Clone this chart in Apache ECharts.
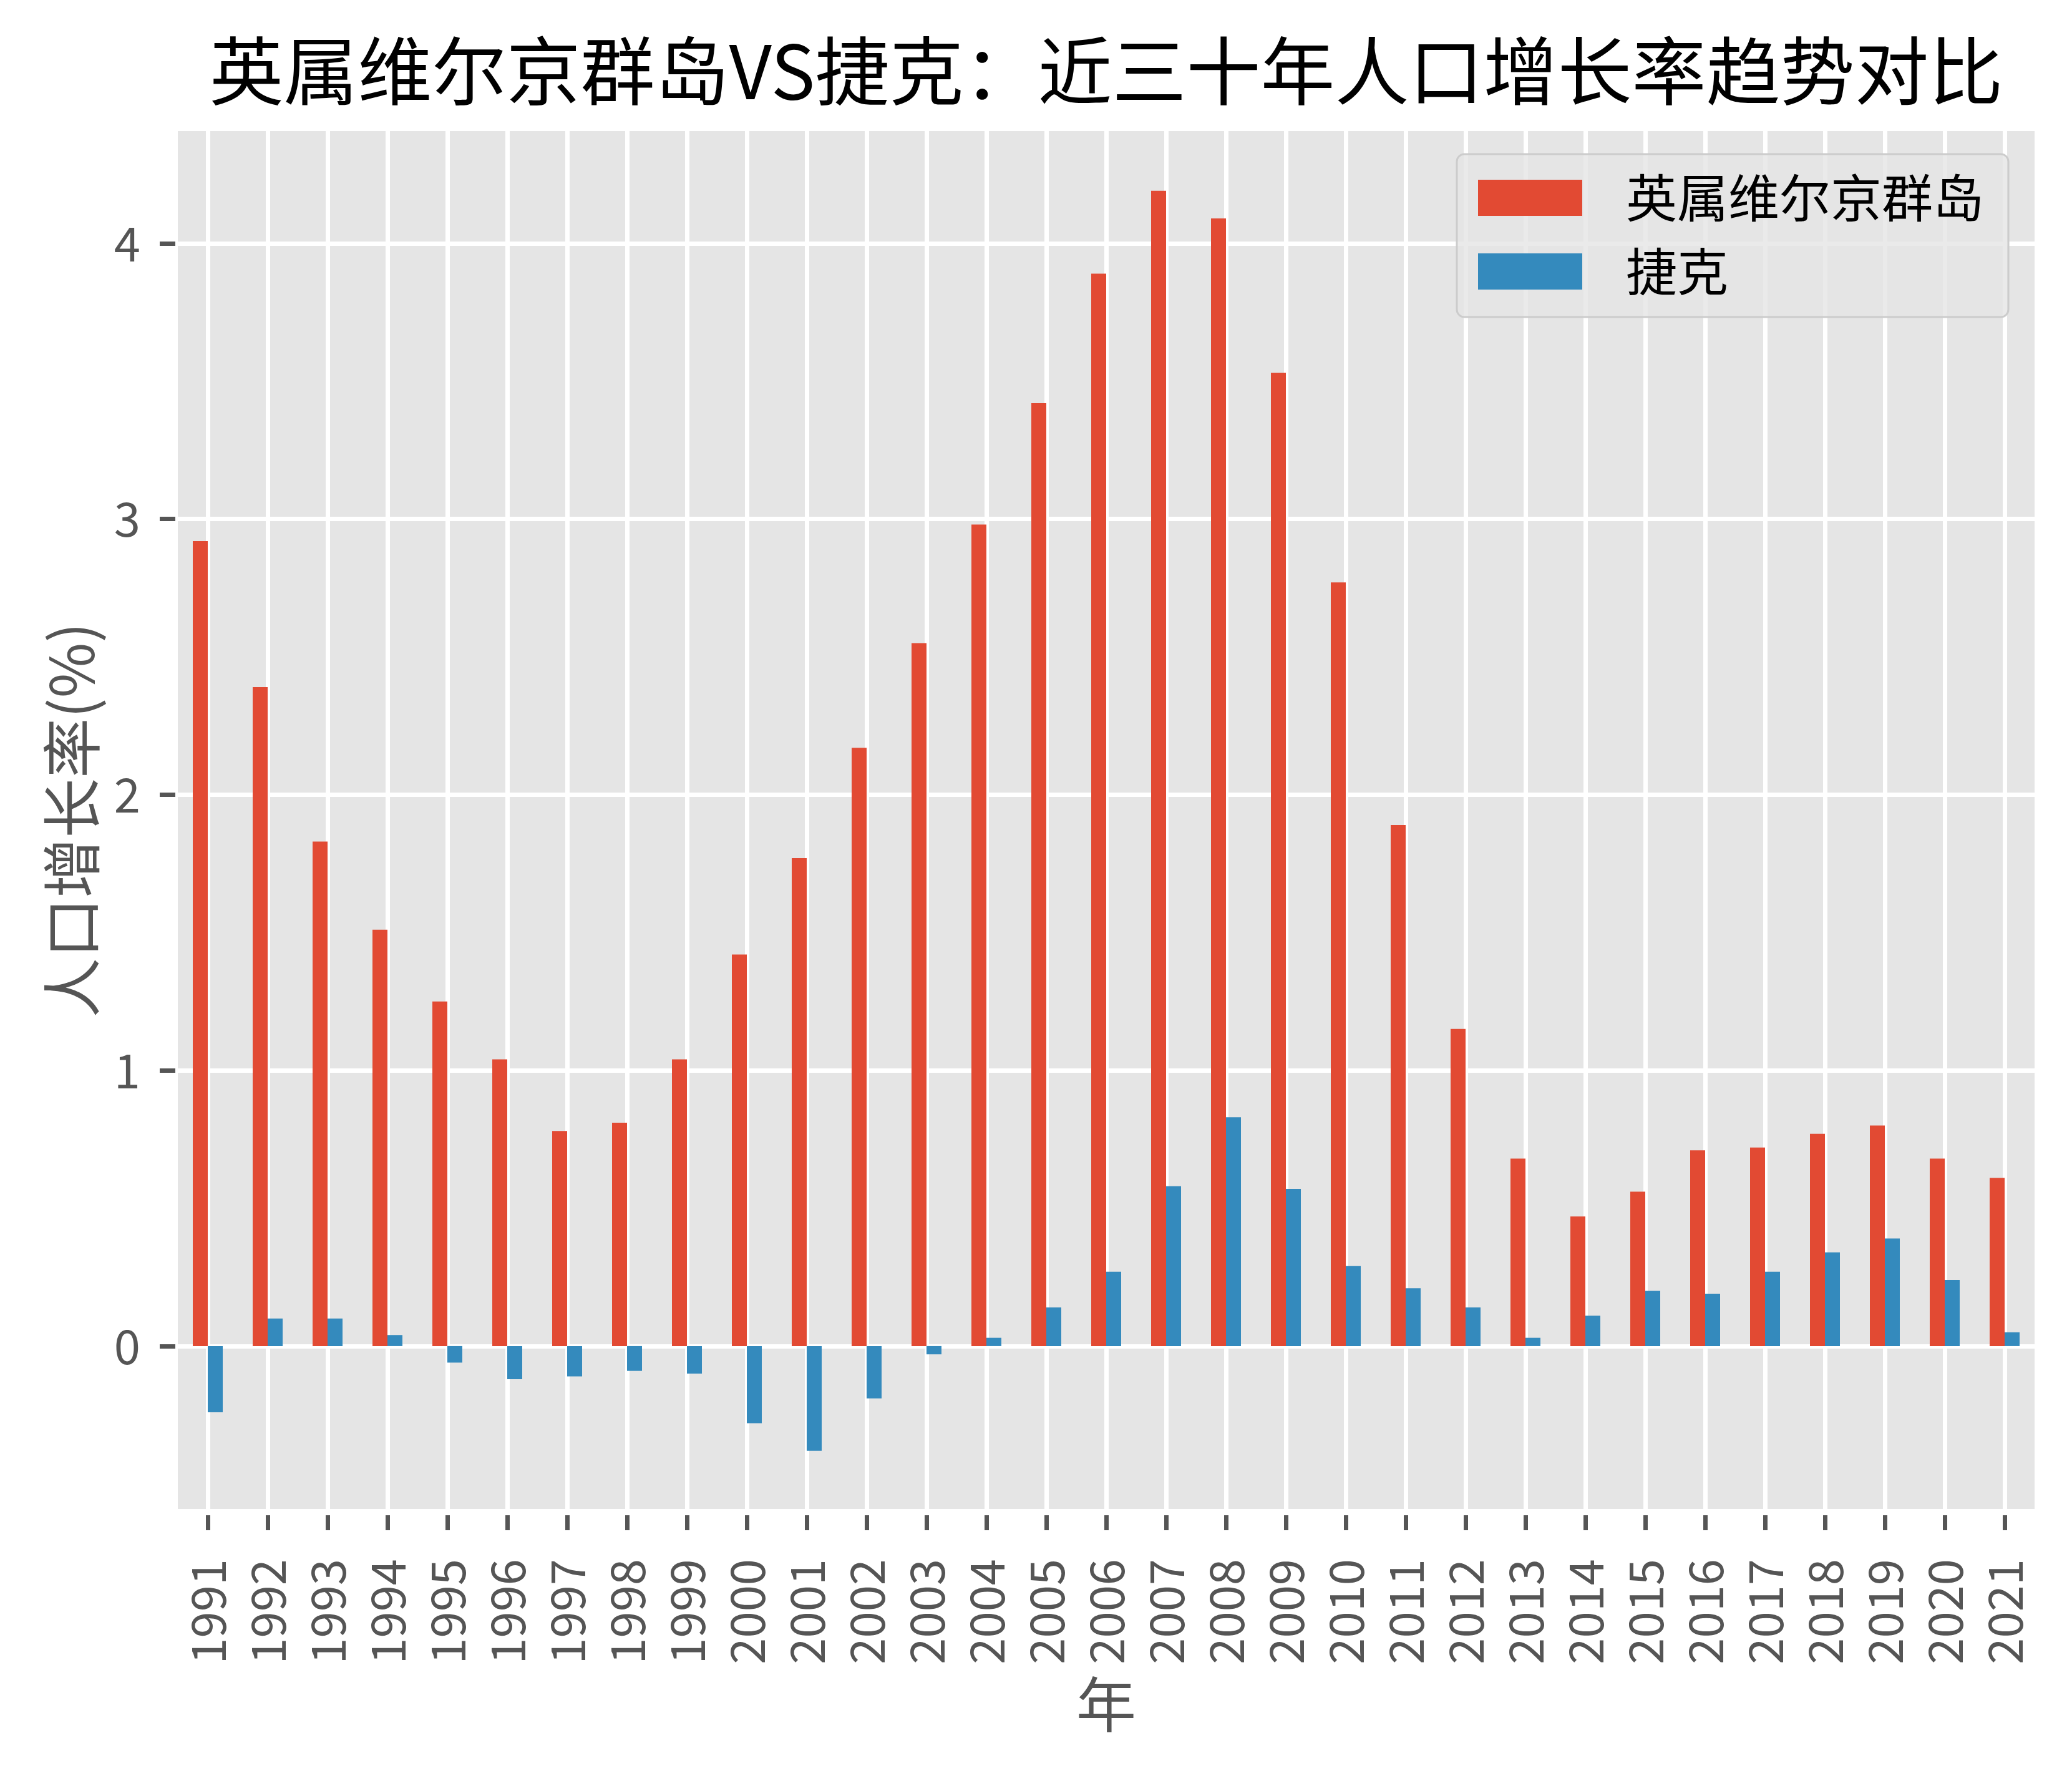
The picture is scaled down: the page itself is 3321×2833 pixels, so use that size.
<!DOCTYPE html>
<html>
<head>
<meta charset="utf-8">
<script src="https://cdn.jsdelivr.net/npm/echarts@6/dist/echarts.min.js"></script>
<style>
html,body{margin:0;padding:0;background:#fff;}
#chart{width:3321px;height:2833px;}
</style>
</head>
<body>
<div id="chart"></div>
<script>
const years = ['1991','1992','1993','1994','1995','1996','1997','1998','1999','2000','2001','2002','2003','2004','2005','2006','2007','2008','2009','2010','2011','2012','2013','2014','2015','2016','2017','2018','2019','2020','2021'];
const bviGrowth = [2.92,2.39,1.83,1.51,1.25,1.04,0.78,0.81,1.04,1.42,1.77,2.17,2.55,2.98,3.42,3.89,4.19,4.09,3.53,2.77,1.89,1.15,0.68,0.47,0.56,0.71,0.72,0.77,0.80,0.68,0.61];
const czechGrowth = [-0.24,0.10,0.10,0.04,-0.06,-0.12,-0.11,-0.09,-0.10,-0.28,-0.38,-0.19,-0.03,0.03,0.14,0.27,0.58,0.83,0.57,0.29,0.21,0.14,0.03,0.11,0.20,0.19,0.27,0.34,0.39,0.24,0.05];
const yTicks = [0,1,2,3,4];
const seriesNames = ['英属维尔京群岛','捷克'];

const cjk = "'Noto Sans CJK SC', sans-serif";
const num = "'Liberation Sans Narrow', 'Noto Sans CJK SC', sans-serif";

const chart = echarts.init(document.getElementById('chart'), null, {renderer:'canvas'});
chart.setOption({
  animation: false,
  backgroundColor: '#ffffff',
  title: {
    text: '英属维尔京群岛VS捷克：近三十年人口增长率趋势对比',
    left: 1773, top: 54, textAlign: 'center', padding: 0,
    textStyle: {fontFamily: cjk, fontSize: 119, fontWeight: 'normal', color: '#000000'}
  },
  legend: {
    orient: 'vertical',
    left: 2335, top: 247,
    padding: [29, 39, 32, 34],
    itemWidth: 167, itemHeight: 58, itemGap: 36,
    icon: 'rect',
    backgroundColor: 'rgba(229,229,229,0.8)',
    borderColor: '#cccccc', borderWidth: 3, borderRadius: 12,
    textStyle: {fontFamily: cjk, fontSize: 82, lineHeight: 82, color: '#000000', padding: [0,0,0,65]},
    data: seriesNames
  },
  grid: {
    left: 285, right: 60, top: 210, bottom: 415,
    show: true, backgroundColor: '#E5E5E5', borderWidth: 0, containLabel: false
  },
  xAxis: {
    type: 'category',
    data: years,
    offset: 10,
    name: '年', nameLocation: 'middle', nameGap: 255,
    nameTextStyle: {fontFamily: cjk, fontSize: 96, color: '#555555'},
    axisLine: {show: false, onZero: false},
    axisTick: {show: true, alignWithLabel: true, length: 24, lineStyle: {color: '#555555', width: 7}},
    axisLabel: {rotate: 90, margin: 70, interval: 0, fontFamily: num, fontSize: 76, color: '#555555'},
    splitLine: {show: true, alignWithLabel: true, lineStyle: {color: '#ffffff', width: 7}}
  },
  yAxis: {
    type: 'value',
    min: -0.591, max: 4.407,
    offset: 4,
    name: '人口增长率(%)', nameLocation: 'middle', nameGap: 118,
    nameTextStyle: {fontFamily: cjk, fontSize: 96, color: '#555555'},
    axisLine: {show: false},
    axisTick: {show: true, length: 25, customValues: yTicks, lineStyle: {color: '#555555', width: 7}},
    axisLabel: {customValues: yTicks, margin: 56, fontFamily: num, fontSize: 76, color: '#555555'},
    splitLine: {show: true, lineStyle: {color: '#ffffff', width: 7}}
  },
  series: [
    {name: seriesNames[0], type: 'bar', data: bviGrowth, barWidth: '25%', barGap: '0%', itemStyle: {color: '#E24A33'}},
    {name: seriesNames[1], type: 'bar', data: czechGrowth, barWidth: '25%', barGap: '0%', itemStyle: {color: '#348ABD'}}
  ]
});
</script>
</body>
</html>
